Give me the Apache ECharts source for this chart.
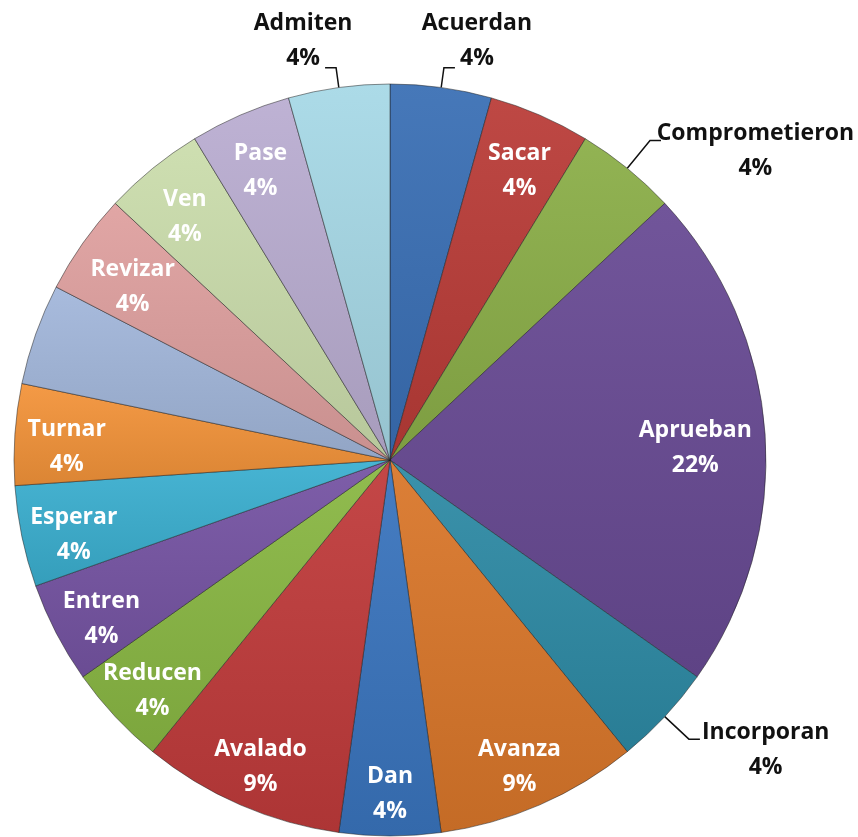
<!DOCTYPE html>
<html>
<head>
<meta charset="utf-8">
<script src="https://cdn.jsdelivr.net/npm/echarts@6/dist/echarts.min.js"></script>
<style>
  html, body { margin: 0; padding: 0; background: #fff; }
  #chart { width: 858px; height: 837px; }
</style>
</head>
<body>
<div id="chart"></div>
<script>
// slices clockwise from 12 o'clock
const categories = ['Acuerdan', 'Sacar', 'Comprometieron', 'Aprueban', 'Incorporan', 'Avanza', 'Dan', 'Avalado',
  'Reducen', 'Entren', 'Esperar', 'Turnar', '', 'Revizar', 'Ven', 'Pase', 'Admiten']
const values = [1, 1, 1, 5, 1, 2, 1, 2, 1, 1, 1, 1, 1, 1, 1, 1, 1]
const colors = ['#3A6FB5', '#BA3C38', '#8BAE48', '#684A94', '#2E8BA6', '#DA772A', '#3A75BE', '#C03B3B',
  '#8AB844', '#7654A3', '#3BAFD0', '#F3943A', '#A2B7DB', '#DFA09F', '#CBDDAC', '#BAADD1', '#A7D9E6']
// labels drawn outside with a leader line, and that line's first segment
const leaderLength = { Acuerdan: 20, Comprometieron: 36, Incorporan: 33, Admiten: 20 }

const total = values.reduce((a, b) => a + b, 0)
const pct = v => Math.round(v / total * 100) + '%'

const shade = (hex, k) => {
  const n = parseInt(hex.slice(1), 16)
  let r = n >> 16, g = (n >> 8) & 255, b = n & 255
  const f = c => Math.max(0, Math.min(255, Math.round(k > 0 ? c + (255 - c) * k : c * (1 + k))))
  return 'rgb(' + f(r) + ',' + f(g) + ',' + f(b) + ')'
}

const font = { fontFamily: 'Open Sans', fontWeight: 'bold', fontSize: 23, lineHeight: 35 }
const cx = 390, cy = 460, R = 376

const sliceData = categories.map((c, i) => ({
  name: c,
  value: values[i],
  itemStyle: {
    color: new echarts.graphic.LinearGradient(0, 0, 0, 1, [
      { offset: 0, color: shade(colors[i], 0.06) },
      { offset: 1, color: shade(colors[i], -0.1) }
    ])
  },
  label: { show: c in leaderLength },
  labelLine: { length: leaderLength[c] || 20 }
}))

const labelData = categories.map((c, i) => ({
  name: c,
  value: values[i],
  label: { show: c !== '' && !(c in leaderLength) }
}))

// pull an inside label toward the centre until its glyphs stay within the pie
// (name line spans the full box width, the % line is narrow and centred)
const fitInside = p => {
  const r = p.labelRect
  const mx = r.x + r.width / 2, my = r.y + r.height / 2
  const pts = [
    [r.x, r.y + 7], [r.x + r.width, r.y + 7], [r.x, my], [r.x + r.width, my],
    [mx - 22, r.y + r.height - 6], [mx + 22, r.y + r.height - 6]
  ]
  const ux = mx - cx, uy = my - cy, d = Math.hypot(ux, uy) || 1
  let sx = 0, sy = 0
  const far = () => Math.max(...pts.map(([x, y]) => Math.hypot(x + sx - cx, y + sy - cy)))
  for (let k = 0; k < 60 && far() > R - 10; k++) { sx -= ux / d; sy -= uy / d }
  return { dx: sx, dy: sy + 9 }
}

const chart = echarts.init(document.getElementById('chart'))
chart.setOption({
  animation: false,
  series: [{
    type: 'pie',
    center: [cx, cy],
    radius: [0, R],
    startAngle: 90,
    clockwise: true,
    avoidLabelOverlap: false,
    itemStyle: { borderColor: 'rgba(30,30,30,0.5)', borderWidth: 1 },
    label: {
      position: 'outside',
      color: '#111',
      formatter: p => p.name + '\n' + pct(p.value),
      ...font
    },
    labelLine: { show: true, length2: 11, lineStyle: { color: '#111', width: 1.5 } },
    // Excel-like placement: near the top the % line sits by the leader end, on the sides the name does
    labelLayout: p => {
      if (!p.labelLinePoints) return
      const e = p.labelLinePoints[2]
      const side = e[0] > cx ? 1 : -1
      const nearTop = Math.abs(e[0] - cx) < 120
      const pos = nearTop
        ? { x: e[0] + side * 22, y: e[1] - 27 }
        : { x: Math.min(e[0] + side * (2 + p.labelRect.width / 2), 854 - p.labelRect.width / 2), y: e[1] + 11 }
      return { ...pos, align: 'center', verticalAlign: 'middle', labelLinePoints: p.labelLinePoints }
    },
    emphasis: { disabled: true },
    data: sliceData
  }, {
    // transparent ring that only carries the white inside labels
    type: 'pie',
    center: [cx, cy],
    radius: [244, 400],
    startAngle: 90,
    clockwise: true,
    silent: true,
    avoidLabelOverlap: false,
    itemStyle: { color: 'rgba(0,0,0,0)' },
    label: {
      position: 'inside',
      color: '#fff',
      overflow: 'none',
      formatter: p => p.name + '\n' + pct(p.value),
      ...font
    },
    labelLine: { show: false },
    labelLayout: fitInside,
    data: labelData
  }]
})
</script>
</body>
</html>
